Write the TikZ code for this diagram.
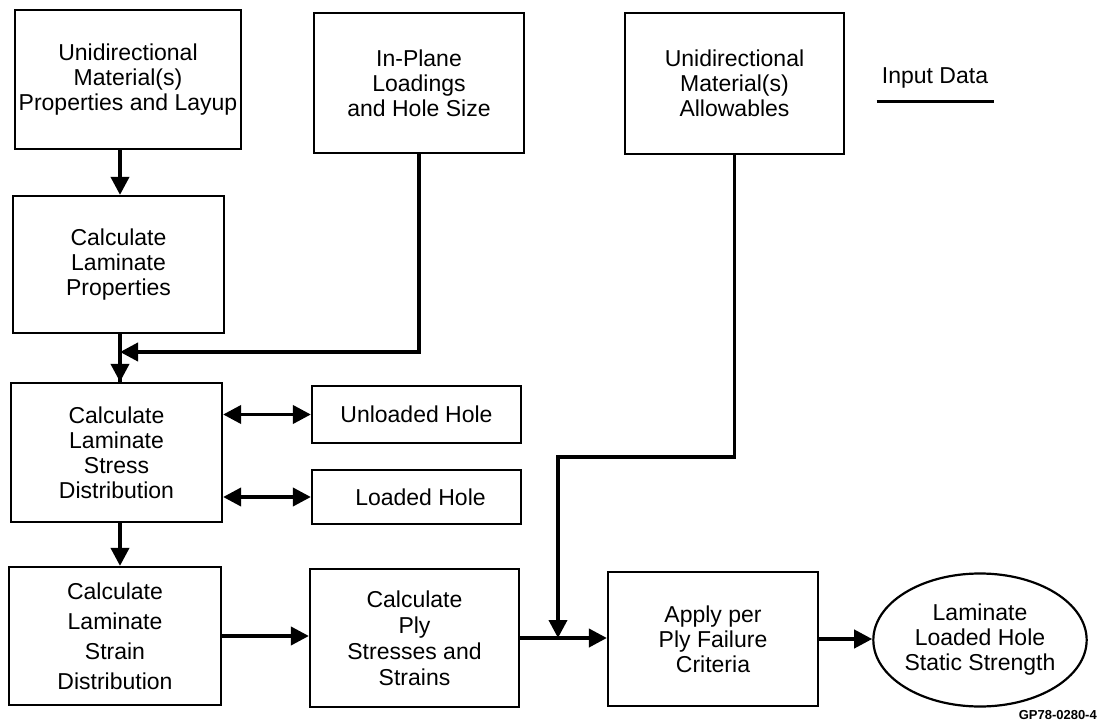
\documentclass[tikz,border=0pt]{standalone}
\usepackage{fontspec}
\setmainfont{Liberation Sans}
\usetikzlibrary{arrows.meta,shapes.geometric}
\begin{document}
\begin{tikzpicture}[x=1pt,y=-1pt,
  txt/.style={font=\fontsize{23}{25}\selectfont},
  box/.style={draw, line width=2.2pt, inner sep=0pt, align=center, txt},
  conn/.style={line width=3.8pt, -{Triangle[length=18pt,width=18pt]}},
  dconn/.style={line width=3.8pt, {Triangle[length=18pt,width=18pt]}-{Triangle[length=18pt,width=18pt]}},
  plain/.style={line width=3.8pt}
]
\useasboundingbox (0,0) rectangle (1098,722);
\fill[white] (0,0) rectangle (1098,722);

% input boxes
\node[box, minimum width=226pt, minimum height=139pt] (A) at (128,79.5) {Unidirectional\\Material(s)\\Properties and Layup};
\node[box, minimum width=210pt, minimum height=140pt] (B) at (419,83) {In-Plane\\Loadings\\and Hole Size};
\node[box, minimum width=219pt, minimum height=141pt] (C) at (734.5,83.5) {Unidirectional\\Material(s)\\Allowables};
\node[txt, inner sep=0pt] (inp) at (935,78) {Input Data};
\draw[line width=2.4pt] ([xshift=-5pt,yshift=-13pt]inp.south west) -- ([xshift=6pt,yshift=-13pt]inp.south east);

% processing boxes
\node[box, minimum width=211pt, minimum height=137pt] (D) at (118.5,264.5) {Calculate\\Laminate\\Properties};
\node[box, minimum width=211pt, minimum height=139pt] (E) at (116.5,452.5) {Calculate\\Laminate\\Stress\\Distribution};
\node[box, minimum width=209pt, minimum height=57pt] (U) at (416.5,414.5) {Unloaded Hole};
\node[box, minimum width=209pt, minimum height=54pt] (Lo) at (416.5,497) {\hspace*{8pt}Loaded Hole};
\node[box, minimum width=212pt, minimum height=138pt, font=\fontsize{23}{30}\selectfont] (F) at (115,636) {Calculate\\Laminate\\Strain\\Distribution};
\node[box, minimum width=209pt, minimum height=138pt, font=\fontsize{23}{26}\selectfont] (G) at (414.5,638) {Calculate\\Ply\\Stresses and\\Strains};
\node[box, minimum width=210pt, minimum height=134pt] (H) at (713,639) {Apply per\\Ply Failure\\Criteria};
\node[box, ellipse, minimum width=196pt, minimum height=133pt] (L) at (980,640) {Laminate\\Loaded Hole\\Static Strength};

\node[anchor=east, inner sep=0pt, font=\fontsize{13}{15}\selectfont\bfseries] (gp) at (1097,715) {GP78-0280-4};

% connectors
\coordinate (j1) at (120,352);
\coordinate (c1) at (558,457);
\draw[conn] (A.south -| j1) -- (D.north -| j1);
\draw[plain] (D.south -| j1) -- (E.north -| j1);
\draw[conn] (j1) -- (E.north -| j1);
\draw[conn] (B.south) |- (j1);
\draw[dconn] (E.east |- U.west) -- (U.west);
\draw[dconn] (E.east |- Lo.west) -- (Lo.west);
\draw[conn] (E.south -| j1) -- (F.north -| j1);
\draw[conn] (F.east) -- (F.east -| G.west);
\draw[conn] (G.east) -- (G.east -| H.west);
\draw[conn] (C.south) |- (c1) -- (c1 |- G.east);
\draw[conn] (H.east) -- (H.east -| L.west);
\end{tikzpicture}
\end{document}
